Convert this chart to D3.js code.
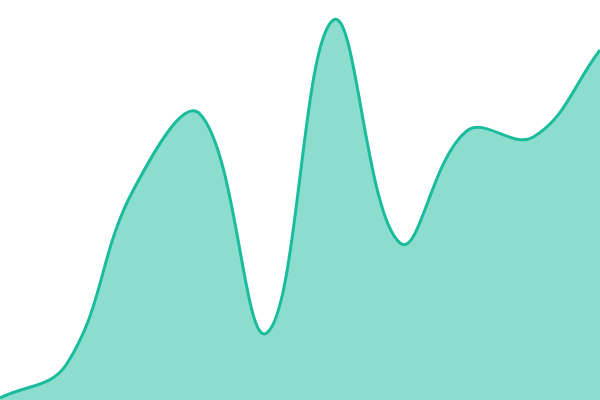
<!DOCTYPE html>
<html>
<head>
<meta charset="utf-8">
<script src="https://cdn.jsdelivr.net/npm/d3@7"></script>
<style>
  body { margin: 0; background: #fff; }
</style>
</head>
<body>
<svg id="chart" width="600" height="400"></svg>
<script>
// data
const labels = ["1", "2", "3", "4", "5", "6", "7", "8", "9", "10"];
const values = [2, 36, 210, 286, 67, 380, 157, 269, 263, 350];

const svg = d3.select("#chart");
const width = +svg.attr("width");
const height = +svg.attr("height");

const x = d3.scalePoint()
    .domain(labels)
    .range([0, width]);
const y = d3.scaleLinear()
    .domain([0, 400])
    .range([height, 0]);

// spline with distance-weighted control points (tension 0.4)
function splineCurve(context) {
    const tension = 0.4;
    let pts, line;
    const clampX = v => Math.max(0, Math.min(width, v));
    const clampY = v => Math.max(0, Math.min(height, v));
    return {
        areaStart() { line = 0; },
        areaEnd() { line = NaN; },
        lineStart() { pts = []; },
        point(px, py) { pts.push([+px, +py]); },
        lineEnd() {
            const n = pts.length;
            if (n) {
                line ? context.lineTo(pts[0][0], pts[0][1]) : context.moveTo(pts[0][0], pts[0][1]);
                const cps = pts.map((p, i) => {
                    const prev = pts[i - 1] || p;
                    const next = pts[i + 1] || p;
                    const d01 = Math.hypot(p[0] - prev[0], p[1] - prev[1]);
                    const d12 = Math.hypot(next[0] - p[0], next[1] - p[1]);
                    let s01 = d01 / (d01 + d12), s12 = d12 / (d01 + d12);
                    if (isNaN(s01)) s01 = 0;
                    if (isNaN(s12)) s12 = 0;
                    const fa = tension * s01, fb = tension * s12;
                    return {
                        prev: [clampX(p[0] - fa * (next[0] - prev[0])), clampY(p[1] - fa * (next[1] - prev[1]))],
                        next: [clampX(p[0] + fb * (next[0] - prev[0])), clampY(p[1] + fb * (next[1] - prev[1]))]
                    };
                });
                for (let i = 1; i < n; i++) {
                    const a = cps[i - 1].next, b = cps[i].prev;
                    context.bezierCurveTo(a[0], a[1], b[0], b[1], pts[i][0], pts[i][1]);
                }
            }
            if (line || (line !== 0 && n === 1)) context.closePath();
            line = 1 - line;
        }
    };
}

const area = d3.area()
    .x((d, i) => x(labels[i]))
    .y0(height)
    .y1(d => y(d))
    .curve(splineCurve);

const line = d3.line()
    .x((d, i) => x(labels[i]))
    .y(d => y(d))
    .curve(splineCurve);

svg.append("path")
    .datum(values)
    .attr("d", area)
    .attr("fill", "#1abc9c")
    .attr("fill-opacity", 0.5);

svg.append("path")
    .datum(values)
    .attr("d", line)
    .attr("fill", "none")
    .attr("stroke", "#1abc9c")
    .attr("stroke-width", 3);
</script>
</body>
</html>
